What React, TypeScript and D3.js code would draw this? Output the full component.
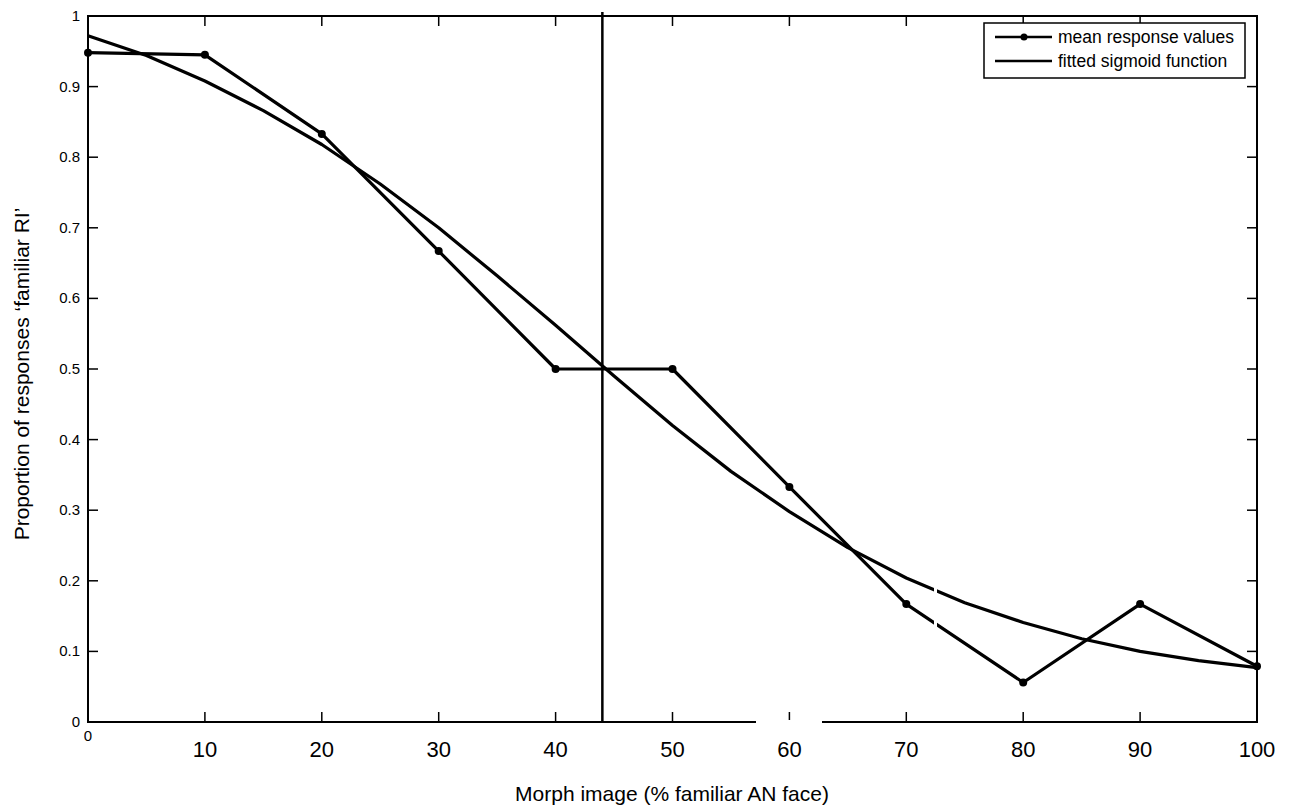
import React from "react";
import * as d3 from "d3";

const morphLevels = [0, 10, 20, 30, 40, 50, 60, 70, 80, 90, 100];
const meanResponses = [0.948, 0.945, 0.833, 0.667, 0.5, 0.5, 0.333, 0.167, 0.056, 0.167, 0.079];
const sigmoidX = [0, 5, 10, 15, 20, 25, 30, 35, 40, 45, 50, 55, 60, 65, 70, 75, 80, 85, 90, 95, 100];
const sigmoidY = [0.972, 0.944, 0.908, 0.866, 0.818, 0.762, 0.700, 0.632, 0.562, 0.490, 0.420, 0.355, 0.298, 0.247, 0.204, 0.169, 0.141, 0.118, 0.100, 0.087, 0.077];
const xTicks = [10, 20, 30, 40, 50, 60, 70, 80, 90, 100];
const yTicks = [0, 0.1, 0.2, 0.3, 0.4, 0.5, 0.6, 0.7, 0.8, 0.9, 1];
const thresholdX = 44;
const legendLabels = ["mean response values", "fitted sigmoid function"];

const W = 1295;
const H = 812;
const L = 88, R = 1257, T = 16, B = 722;
const FONT = "'Liberation Sans', Arial, Helvetica, sans-serif";

export default function App() {
  const x = d3.scaleLinear().domain([0, 100]).range([L, R]);
  const y = d3.scaleLinear().domain([0, 1]).range([B, T]);
  const lineGen = d3.line<[number, number]>().x((d) => x(d[0])).y((d) => y(d[1]));
  const meanPts: [number, number][] = morphLevels.map((m, i) => [m, meanResponses[i]]);
  const sigPts: [number, number][] = sigmoidX.map((m, i) => [m, sigmoidY[i]]);
  const tickLen = 10;

  return (
    <svg width={W} height={H} style={{ position: "absolute", left: 0, top: 0, background: "#fff" }}>
      <rect x={0} y={0} width={W} height={H} fill="#fff" />
      {/* axes box */}
      <rect x={L} y={T} width={R - L} height={B - T} fill="none" stroke="#000" strokeWidth={2} />
      {/* x ticks */}
      {xTicks.map((t) => (
        <g key={"xt" + t}>
          <line x1={x(t)} x2={x(t)} y1={B} y2={B - tickLen} stroke="#000" strokeWidth={1.5} />
          <line x1={x(t)} x2={x(t)} y1={T} y2={T + tickLen} stroke="#000" strokeWidth={1.5} />
          <text x={x(t)} y={757} textAnchor="middle" fontFamily={FONT} fontSize={22} fill="#000">
            {t}
          </text>
        </g>
      ))}
      <text x={x(0)} y={741} textAnchor="middle" fontFamily={FONT} fontSize={15} fill="#000">0</text>
      {/* y ticks */}
      {yTicks.map((t) => (
        <g key={"yt" + t}>
          <line x1={L} x2={L + tickLen} y1={y(t)} y2={y(t)} stroke="#000" strokeWidth={1.5} />
          <line x1={R} x2={R - tickLen} y1={y(t)} y2={y(t)} stroke="#000" strokeWidth={1.5} />
          <text x={80} y={y(t) + 5} textAnchor="end" fontFamily={FONT} fontSize={15} fill="#000">
            {t}
          </text>
        </g>
      ))}
      {/* threshold line */}
      <line x1={x(thresholdX)} x2={x(thresholdX)} y1={12} y2={B} stroke="#000" strokeWidth={2.5} />
      {/* sigmoid */}
      <path d={lineGen(sigPts) || ""} fill="none" stroke="#000" strokeWidth={3.2} strokeLinejoin="round" />
      {/* mean */}
      <path d={lineGen(meanPts) || ""} fill="none" stroke="#000" strokeWidth={3.2} strokeLinejoin="round" />
      {meanPts.map((p, i) => (
        <circle key={"m" + i} cx={x(p[0])} cy={y(p[1])} r={4} fill="#000" />
      ))}
      {/* scan gaps */}
      <rect x={756} y={B - 2} width={66} height={4} fill="#fff" />
      <rect x={934} y={570} width={3} height={75} fill="#fff" />
      {/* legend */}
      <rect x={984} y={23} width={261} height={55} fill="#fff" stroke="#000" strokeWidth={1.5} />
      <line x1={995} x2={1052} y1={37} y2={37} stroke="#000" strokeWidth={2.5} />
      <circle cx={1024} cy={37} r={3.5} fill="#000" />
      <line x1={995} x2={1052} y1={61} y2={61} stroke="#000" strokeWidth={2.5} />
      <text x={1058} y={43} fontFamily={FONT} fontSize={17.5} fill="#000">{legendLabels[0]}</text>
      <text x={1058} y={67} fontFamily={FONT} fontSize={17.5} fill="#000">{legendLabels[1]}</text>
      {/* titles */}
      <text x={672} y={801} textAnchor="middle" fontFamily={FONT} fontSize={21} fill="#000">
        Morph image (% familiar AN face)
      </text>
      <text
        transform={`translate(29, ${(T + B) / 2 + 5}) rotate(-90)`}
        textAnchor="middle"
        fontFamily={FONT}
        fontSize={21}
        fill="#000"
      >
        Proportion of responses ‘familiar RI’
      </text>
    </svg>
  );
}
